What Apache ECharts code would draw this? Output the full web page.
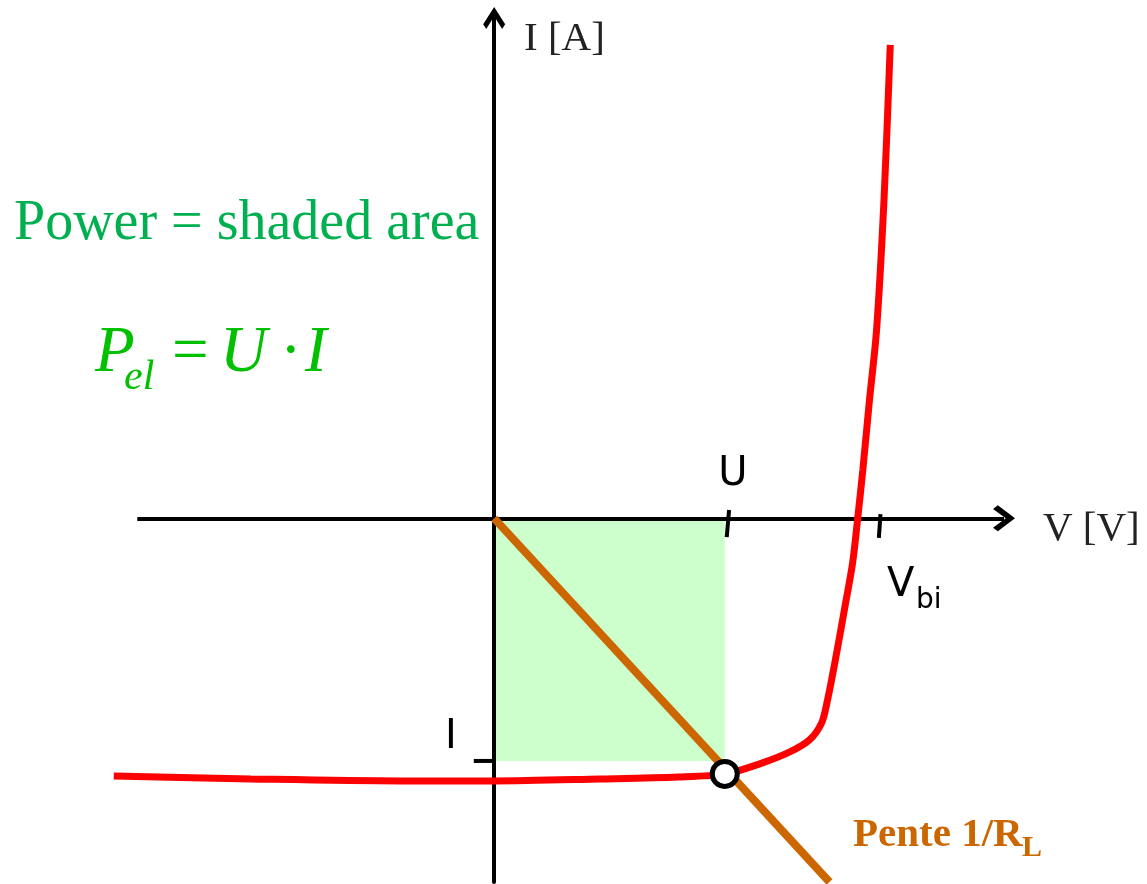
<!doctype html>
<html lang="fr">
<head>
  <meta charset="UTF-8">
  <title>Caractéristique I-V et droite de charge</title>
  <script src="https://cdn.jsdelivr.net/npm/echarts@6/dist/echarts.min.js"></script>
  <style>
    html, body { margin: 0; padding: 0; background: #fff; }
    #chart { width: 1147px; height: 884px; }
  </style>
</head>
<body>
<div id="chart"></div>
<script>
  // courbe I-V (rouge), unites arbitraires
  var ivVoltage = [-0.97, -0.62, -0.24, 0, 0.27, 0.47, 0.59, 0.677, 0.754, 0.804, 0.835, 0.85, 0.87, 0.893, 0.914, 0.927, 0.94, 0.957, 0.975, 0.994, 1.01];
  var ivCurrent = [-1.056, -1.068, -1.076, -1.076, -1.068, -1.06, -1.047, -1.006, -0.957, -0.908, -0.838, -0.744, -0.58, -0.375, -0.182, 0.001, 0.198, 0.485, 0.771, 1.304, 1.94];

  // droite de charge, pente 1/RL
  var loadVoltage = [0, 0.855];
  var loadCurrent = [0, -1.49];

  // point de fonctionnement et reperes
  var opVoltage = 0.588, opCurrent = -1.047;
  var uValue = 0.596, iValue = -0.994, vbiValue = 0.983;

  // etendue des axes
  var xMin = -1.0, xMax = 1.3, yMin = -1.49, yMax = 2.05;
  var xAxisStart = -0.91;

  var serif = '"Liberation Serif", "Times New Roman", serif';
  var sans = '"DejaVu Sans", Verdana, sans-serif';
  var chevron = 'path://M50,0 L100,78 L86,100 L50,42 L14,100 L0,78 Z';

  function pairs(xs, ys) {
    return xs.map(function (x, i) { return [x, ys[i]]; });
  }

  function tick(name, pts) {
    return {
      name: name, type: 'line', z: 4, clip: false, symbol: 'none', silent: true,
      lineStyle: { color: '#000', width: 4 },
      data: pts
    };
  }

  function txt(x, y, text, style) {
    var s = Object.assign({ text: text, verticalAlign: 'middle' }, style);
    return { type: 'text', x: x, y: y, silent: true, style: s };
  }

  var chart = echarts.init(document.getElementById('chart'));

  var green = { fontFamily: serif, fontSize: 65, fill: '#00c000' };
  var greenIt = Object.assign({ fontStyle: 'italic' }, green);

  var option = {
    backgroundColor: '#fff',
    animation: false,
    grid: { left: 102, right: 143, top: 18, bottom: 2 },
    xAxis: {
      type: 'value', min: xMin, max: xMax,
      axisLine: { show: false },
      axisTick: { show: false }, axisLabel: { show: false }, splitLine: { show: false }
    },
    yAxis: {
      type: 'value', min: yMin, max: yMax, z: 3,
      axisLine: { onZero: true, symbol: ['none', chevron], symbolSize: [26, 22], lineStyle: { color: '#000', width: 4 } },
      axisTick: { show: false }, axisLabel: { show: false }, splitLine: { show: false }
    },
    series: [
      {
        name: 'puissance', type: 'line', z: 1, data: [], silent: true,
        markArea: {
          silent: true, z: 1,
          itemStyle: { color: '#ccffcc' },
          data: [[{ coord: [0, 0] }, { coord: [opVoltage, iValue] }]]
        },
        markLine: {
          silent: true, z: 3, animation: false,
          symbol: ['none', chevron], symbolSize: [26, 22],
          label: { show: false },
          lineStyle: { color: '#000', width: 4, type: 'solid' },
          data: [[{ coord: [xAxisStart, 0] }, { coord: [xMax, 0] }]]
        }
      },
      tick('tickU', [[uValue + 0.003, 0.034], [uValue - 0.003, -0.077]]),
      tick('tickVbi', [[vbiValue + 0.002, 0.017], [vbiValue - 0.002, -0.08]]),
      tick('tickI', [[-0.052, iValue], [-0.004, iValue]]),
      {
        name: 'charge', type: 'line', z: 4, clip: false, symbol: 'none',
        lineStyle: { color: '#cc6600', width: 8 },
        data: pairs(loadVoltage, loadCurrent)
      },
      {
        name: 'I-V', type: 'line', z: 5, clip: false, symbol: 'none', smooth: 0.3,
        lineStyle: { color: '#ff0000', width: 7 },
        data: pairs(ivVoltage, ivCurrent)
      },
      {
        name: 'point', type: 'scatter', z: 6, symbol: 'circle', symbolSize: 25,
        itemStyle: { color: '#fff', borderColor: '#000', borderWidth: 5, opacity: 1 },
        data: [[opVoltage, opCurrent]]
      }
    ],
    graphic: [
      txt(14, 224, 'Power = shaded area', { fontFamily: serif, fontSize: 56, fill: '#00b050' }),
      txt(95, 354, 'P', greenIt),
      txt(124, 378, 'el', Object.assign({}, greenIt, { fontSize: 42 })),
      txt(172, 354, '=', green),
      txt(220, 354, 'U', greenIt),
      txt(280, 354, '·', green),
      txt(305, 354, 'I', greenIt),
      txt(524, 39, 'I [A]', { fontFamily: serif, fontSize: 41, fill: '#222' }),
      txt(1043, 529, 'V [V]', { fontFamily: serif, fontSize: 41, fill: '#222' }),
      txt(733, 475, 'U', { fontFamily: sans, fontSize: 40, fill: '#000', align: 'center' }),
      txt(887, 586, 'V', { fontFamily: sans, fontSize: 40, fill: '#000' }),
      txt(916, 601, 'bi', { fontFamily: sans, fontSize: 28, fill: '#000' }),
      txt(451, 738, 'I', { fontFamily: sans, fontSize: 40, fill: '#000', align: 'center' }),
      txt(853, 835, 'Pente 1/R', { fontFamily: serif, fontWeight: 'bold', fontSize: 41, fill: '#cc6600' }),
      txt(1022, 848, 'L', { fontFamily: serif, fontWeight: 'bold', fontSize: 30, fill: '#cc6600' })
    ]
  };

  chart.setOption(option);
</script>
</body>
</html>
